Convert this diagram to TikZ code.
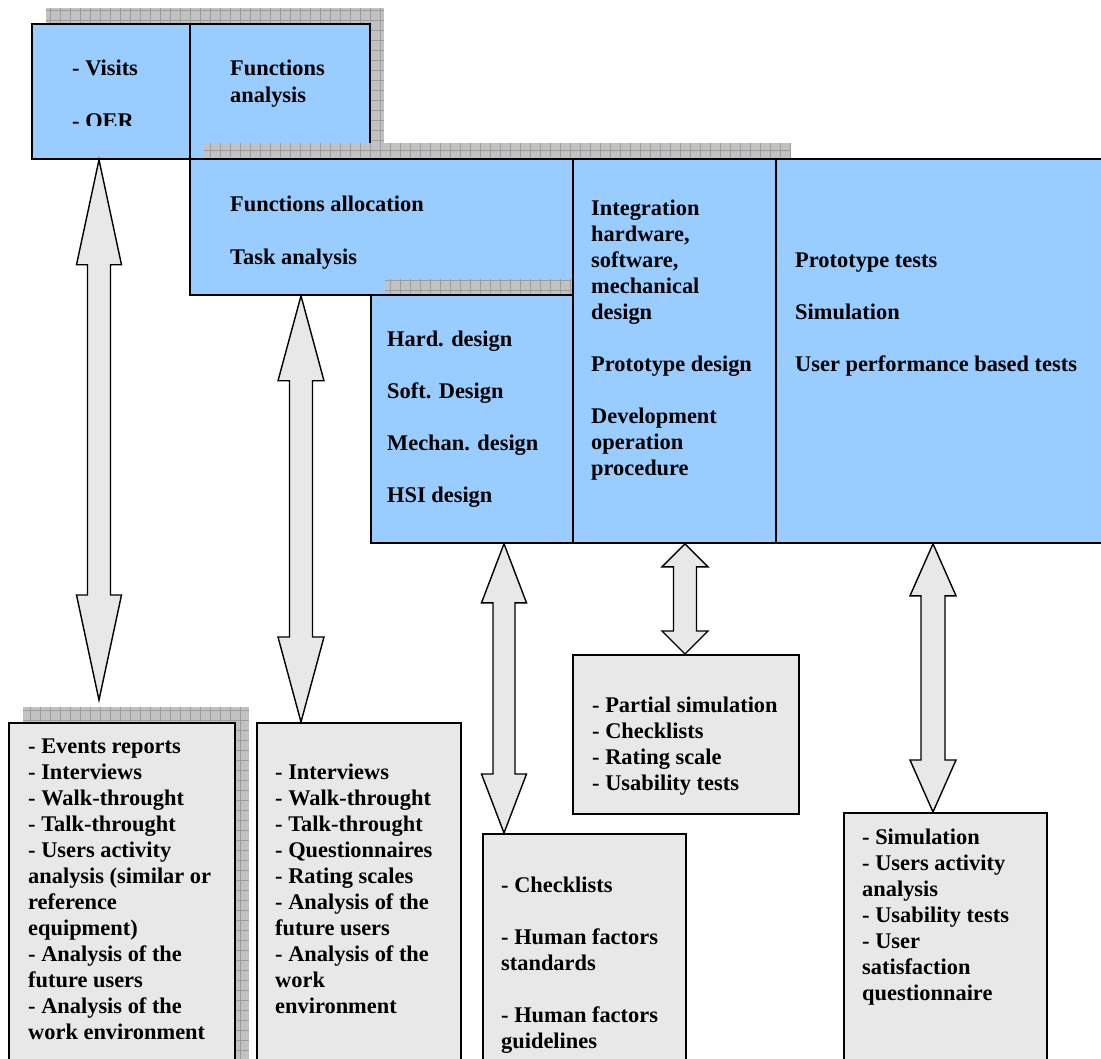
\documentclass[tikz,border=0pt]{standalone}
\usepackage{fontspec}
\setmainfont{Liberation Serif}
\usetikzlibrary{calc}
\definecolor{boxblue}{HTML}{99CCFF}
\definecolor{boxgray}{HTML}{E8E8E8}
\definecolor{shadowgray}{HTML}{C2C2C2}
\definecolor{gridgray}{HTML}{9C9C9C}
\tikzset{
  bluebox/.style={draw=black, line width=1.8pt, fill=boxblue, rectangle, inner sep=0pt, anchor=north west},
  graybox/.style={draw=black, line width=1.8pt, fill=boxgray, rectangle, inner sep=0pt, anchor=north west},
  txt/.style={anchor=north west, inner sep=0pt, align=left, font=\fontsize{22.4}{26}\selectfont\bfseries},
  blockarrow/.style={draw=black, line width=1.4pt, fill=boxgray, line join=miter},
  shadowfill/.style={fill=shadowgray},
  shadowlines/.style={draw=gridgray, line width=0.5pt}
}
\newcommand{\shadowrect}[2]{%
  \fill[shadowfill] #1 rectangle #2;
  \draw[shadowlines, step=10pt] #1 grid #2;}
\newcommand{\dblarrow}[5]{%
  \draw[blockarrow] let \p1=(#1), \p2=(#2) in
   (\x1,\y1) -- (\x1+#4pt,\y1-#3pt) -- (\x1+#5pt,\y1-#3pt) -- (\x1+#5pt,\y2+#3pt)
   -- (\x1+#4pt,\y2+#3pt) -- (\x1,\y2) -- (\x1-#4pt,\y2+#3pt) -- (\x1-#5pt,\y2+#3pt)
   -- (\x1-#5pt,\y1-#3pt) -- (\x1-#4pt,\y1-#3pt) -- cycle;}
\begin{document}
\begin{tikzpicture}[x=1pt, y=-1pt]
\useasboundingbox (0,0) rectangle (1101,1059);
\clip (0,0) rectangle (1101,1059);
\fill[white] (0,0) rectangle (1101,1059);

% top row
\shadowrect{(46,8)}{(384,143)}
\node[bluebox, minimum width=158pt, minimum height=135pt] (boxA) at (31,23) {};
\begin{scope}
  \clip (31,23) rectangle (189,126);
  \node[txt] (tA) at (72,56.8) {\strut- Visits\\[27pt]- OER};
\end{scope}
\node[bluebox, minimum width=180pt, minimum height=135pt] (boxB) at (189,23) {};
\node[txt] (tB) at (230,56.8) {\strut Functions\\[1pt]analysis};

% second row
\shadowrect{(204,143)}{(587,279)}
\shadowrect{(587,143)}{(790,527)}
\node[bluebox, minimum width=383pt, minimum height=136pt] (boxC) at (189,158) {};
\node[txt] (tC) at (230,192.8) {\strut Functions allocation\\[27pt]Task analysis};
\shadowrect{(385,279)}{(587,527)}
\node[bluebox, minimum width=202pt, minimum height=248pt] (boxD) at (370,294) {};
\node[txt] (tD) at (387,327.8) {\strut Hard. design\\[26pt]Soft. Design\\[26pt]Mechan. design\\[26pt]HSI design};
\node[bluebox, minimum width=203pt, minimum height=384pt] (boxE) at (572,158) {};
\node[txt] (tE) at (591,196.8) {\strut Integration\\hardware,\\software,\\mechanical\\design\\[26pt]Prototype design\\[26pt]Development\\operation\\procedure};
\node[bluebox, minimum width=340pt, minimum height=384pt] (boxF) at (775,158) {};
\node[txt] (tF) at (795,248.8) {\strut Prototype tests\\[26pt]Simulation\\[26pt]User performance based tests};

% bottom boxes
\shadowrect{(23,707)}{(249,1075)}
\node[graybox, minimum width=226pt, minimum height=360pt] (box1) at (8,722) {};
\node[txt] (t1) at (28,734.8) {\strut- Events reports\\- Interviews\\- Walk-throught\\- Talk-throught\\- Users activity\\analysis (similar or\\reference\\equipment)\\- Analysis of the\\future users\\- Analysis of the\\work environment};
\node[graybox, minimum width=204pt, minimum height=360pt] (box2) at (256,722) {};
\node[txt] (t2) at (275,760.8) {\strut- Interviews\\- Walk-throught\\- Talk-throught\\- Questionnaires\\- Rating scales\\- Analysis of the\\future users\\- Analysis of the\\work\\environment};
\node[graybox, minimum width=226pt, minimum height=159pt] (boxP) at (572,654) {};
\node[txt] (tP) at (592,693.8) {\strut- Partial simulation\\- Checklists\\- Rating scale\\- Usability tests};
\node[graybox, minimum width=203pt, minimum height=240pt] (boxHF) at (482,833) {};
\node[txt] (tHF) at (501,873.8) {\strut- Checklists\\[26pt]- Human factors\\standards\\[26pt]- Human factors\\guidelines};
\node[graybox, minimum width=203pt, minimum height=260pt] (boxS) at (843,812) {};
\node[txt] (tS) at (862,825.8) {\strut- Simulation\\- Users activity\\analysis\\- Usability tests\\- User\\satisfaction\\questionnaire};

% arrows
\coordinate (a1t) at (99,0 |- boxA.south);
\coordinate (a1b) at (99,700);
\coordinate (a2t) at (301,0 |- boxC.south);
\coordinate (a2b) at (301,0 |- box2.north);
\coordinate (a3t) at (504,0 |- boxD.south);
\coordinate (a3b) at (504,0 |- boxHF.north);
\coordinate (a4t) at (685,0 |- boxE.south);
\coordinate (a4b) at (685,0 |- boxP.north);
\coordinate (a5t) at (933,0 |- boxF.south);
\coordinate (a5b) at (933,0 |- boxS.north);
\dblarrow{a1t}{a1b}{105}{22.5}{11.5}
\dblarrow{a2t}{a2b}{85}{23}{11.5}
\dblarrow{a3t}{a3b}{59}{22.5}{11}
\dblarrow{a4t}{a4b}{23}{23}{11.5}
\dblarrow{a5t}{a5b}{52}{23}{12}
\end{tikzpicture}
\end{document}
